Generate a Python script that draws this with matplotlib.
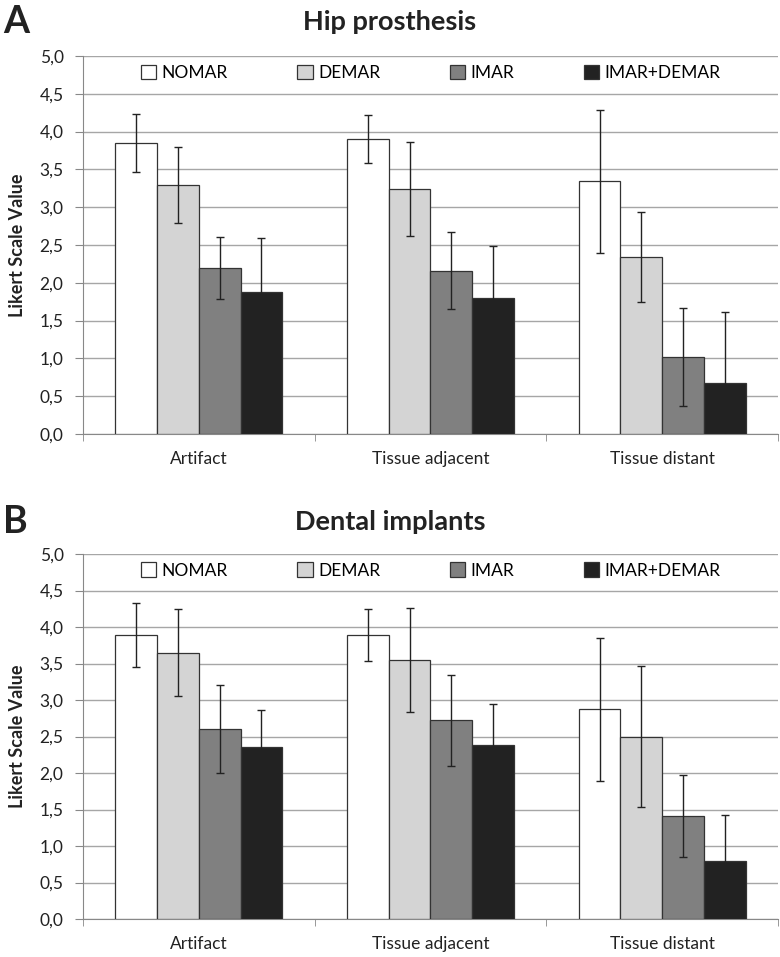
import matplotlib
matplotlib.use("Agg")
import numpy as np
import matplotlib.pyplot as plt
from matplotlib.patches import Patch

plt.rcParams["font.family"] = ["Lato", "DejaVu Sans"]

categories = ["Artifact", "Tissue adjacent", "Tissue distant"]
series = ["NOMAR", "DEMAR", "IMAR", "IMAR+DEMAR"]
colors = ["#ffffff", "#d4d4d4", "#808080", "#222222"]
ticks = [0, 0.5, 1, 1.5, 2, 2.5, 3, 3.5, 4, 4.5, 5]

# Hip prosthesis (panel A): rows = series, cols = categories
hip_vals = [[3.85, 3.90, 3.34],
            [3.29, 3.24, 2.34],
            [2.19, 2.16, 1.02],
            [1.88, 1.80, 0.68]]
hip_err = [[0.38, 0.32, 0.94],
           [0.50, 0.62, 0.60],
           [0.41, 0.51, 0.65],
           [0.71, 0.69, 0.93]]

# Dental implants (panel B)
dent_vals = [[3.89, 3.89, 2.87],
             [3.65, 3.55, 2.50],
             [2.60, 2.72, 1.41],
             [2.35, 2.38, 0.80]]
dent_err = [[0.44, 0.36, 0.98],
            [0.60, 0.71, 0.96],
            [0.60, 0.62, 0.56],
            [0.51, 0.56, 0.63]]

fig = plt.figure(figsize=(7.8, 9.57), dpi=100)
ax_a = fig.add_axes([0.1064, 1 - 434 / 957, 0.891, 378 / 957])
ax_b = fig.add_axes([0.1064, 1 - 919 / 957, 0.891, 365 / 957])

W = 0.18
x = np.arange(len(categories))

def draw(ax, vals, errs, title, letter, ytop):
    for i, (v, e, c) in enumerate(zip(vals, errs, colors)):
        ax.bar(x + (i - 1.5) * W, v, W, color=c, edgecolor="#333333",
               linewidth=0.9, zorder=3)
        ax.errorbar(x + (i - 1.5) * W, v, yerr=e, fmt="none",
                    ecolor="#222222", elinewidth=1.0, capsize=3,
                    capthick=1.0, zorder=4)
    ax.set_xlim(-0.5, 2.5)
    ax.set_ylim(0, 5)
    ax.set_yticks(ticks)
    ax.set_yticklabels([f"{t:.1f}".replace(".", ",") for t in ticks],
                       fontsize=12.5, color="#222222")
    ax.yaxis.grid(True, color="#a6a6a6", linewidth=1.0, zorder=0)
    ax.set_axisbelow(True)
    ax.set_xticks(x)
    ax.set_xticklabels(categories, fontsize=12.5, color="#222222")
    ax.set_xticks([-0.5, 0.5, 1.5, 2.5], minor=True)
    ax.tick_params(axis="x", which="major", length=0, pad=12)
    ax.tick_params(axis="x", which="minor", length=5, color="#888888")
    ax.tick_params(axis="y", length=6, color="#888888", pad=8)
    for s in ["top", "right"]:
        ax.spines[s].set_visible(False)
    for s in ["left", "bottom"]:
        ax.spines[s].set_color("#888888")
    ax.set_ylabel("Likert Scale Value", fontsize=13, fontweight="bold",
                  color="#222222", labelpad=10)
    fig.text(0.5, ytop, title, fontsize=19.5, fontweight="bold",
             color="#222222", ha="center", va="center")
    fig.text(0.004, ytop, letter, fontsize=27, fontweight="bold",
             color="#222222", va="center", ha="left")
    handles = [Patch(facecolor=c, edgecolor="#333333", linewidth=0.9)
               for c in colors]
    ax.legend(handles, series, loc="center", bbox_to_anchor=(0.5, 0.955),
              ncol=4, frameon=False, fontsize=12.5, columnspacing=4.0,
              handlelength=0.9, handleheight=0.9, handletextpad=0.3)

draw(ax_a, hip_vals, hip_err, "Hip prosthesis", "A", 1 - 22 / 957)
draw(ax_b, dent_vals, dent_err, "Dental implants", "B", 1 - 522 / 957)

fig.savefig("out.png", dpi=100)
